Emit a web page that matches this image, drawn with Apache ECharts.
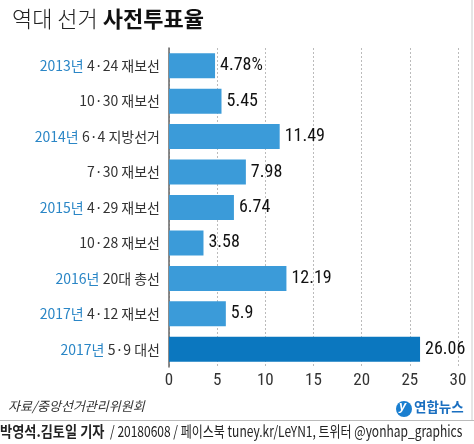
<!DOCTYPE html>
<html><head><meta charset="utf-8">
<script src="https://cdn.jsdelivr.net/npm/echarts@6/dist/echarts.min.js"></script>
<style>html,body{margin:0;padding:0;background:#fff}#c{width:474px;height:444px}</style>
</head><body><div id="c"></div>
<script>
const categories = ['2013년 4·24 재보선','10·30 재보선','2014년 6·4 지방선거','7·30 재보선','2015년 4·29 재보선','10·28 재보선','2016년 20대 총선','2017년 4·12 재보선','2017년 5·9 대선'];
const values = [4.78, 5.45, 11.49, 7.98, 6.74, 3.58, 12.19, 5.9, 26.06];
const xTicks = [0, 5, 10, 15, 20, 25, 30];

const FONT = '"Noto Sans CJK KR", "Noto Sans", sans-serif';
const NUM = '"Liberation Sans Narrow", "Roboto Condensed", "Liberation Sans", Arial, sans-serif';
const LBL = '"Liberation Sans Narrow", "Noto Sans CJK KR", sans-serif';
const chart = echarts.init(document.getElementById('c'), null, {renderer: 'canvas'});
chart.setOption({
  animation: false,
  backgroundColor: '#fff',
  grid: {left: 169, right: 16, top: 48, bottom: 77},
  xAxis: {
    type: 'value', min: 0, max: 30, interval: 5,
    axisLine: {show: false}, axisTick: {show: false},
    splitLine: {show: true, lineStyle: {type: [2, 2], color: '#bbb', width: 1}},
    axisLabel: {color: '#333', fontSize: 17, fontFamily: NUM, margin: 5,
      formatter: v => xTicks.includes(v) ? String(v) : ''}
  },
  yAxis: {
    type: 'category', data: categories, inverse: true,
    axisLine: {show: true, lineStyle: {color: '#666', width: 1.5}},
    axisTick: {show: false},
    axisLabel: {
      margin: 9,
      formatter: function (v) {
        const i = v.indexOf('년 ');
        if (i >= 0) return '{y|' + v.slice(0, i + 1) + '} {t|' + v.slice(i + 2) + '}';
        return '{t|' + v + '}';
      },
      rich: {
        y: {color: '#2a86c6', fontSize: 14, fontFamily: LBL},
        t: {color: '#333', fontSize: 14, fontFamily: LBL}
      }
    }
  },
  series: [{
    type: 'bar', barWidth: 25,
    data: values.map((v, i) => ({value: v, itemStyle: {color: i === values.length - 1 ? '#0b77bf' : '#3b9bd9'}})),
    label: {
      show: true, position: 'right', distance: 5, color: '#111', fontSize: 18,
      fontFamily: NUM,
      formatter: p => p.dataIndex === 0 ? p.value + '%' : String(p.value)
    }
  }],
  graphic: [
    {type: 'line', shape: {x1: 472, y1: 0, x2: 472, y2: 420}, style: {stroke: '#ccc', lineWidth: 1}},
    {type: 'line', shape: {x1: 0, y1: 420.5, x2: 474, y2: 420.5}, style: {stroke: '#bbb', lineWidth: 1}},
    {type: 'text', left: 12, top: 8, style: {
      text: '{a|역대 선거 }{b|사전투표율}',
      rich: {
        a: {fontSize: 22, fontFamily: FONT, fontWeight: 300, fill: '#222'},
        b: {fontSize: 22, fontFamily: FONT, fontWeight: 'bold', fill: '#111'}
      }}},
    {type: 'text', left: 8, top: 400, style: {
      text: '자료/중앙선거관리위원회', fontSize: 13, fontStyle: 'italic', fontFamily: FONT, fill: '#333'}},
    {type: 'circle', shape: {cx: 404, cy: 409, r: 8}, style: {fill: '#1a7fd0'}},
    {type: 'text', x: 399, y: 400, style: {text: 'y', fontSize: 13, fontStyle: 'italic', fontWeight: 'bold', fontFamily: 'Liberation Sans', fill: '#fff'}},
    {type: 'text', x: 414, y: 400, style: {text: '연합뉴스', fontSize: 13.5, fontWeight: 'bold', fontFamily: FONT, fill: '#1a6fc0'}},
    {type: 'text', x: 0, y: 424, scaleX: 0.88, style: {
      text: '박영석.김토일 기자', fontSize: 15, fontWeight: 'bold', fontFamily: FONT, fill: '#222'}},
    {type: 'text', x: 110, y: 424, scaleX: 0.8, style: {
      text: '/ 20180608 / 페이스북 tuney.kr/LeYN1, 트위터 @yonhap_graphics', fontSize: 15, fontFamily: FONT, fill: '#222'}}
  ]
});
</script></body></html>
